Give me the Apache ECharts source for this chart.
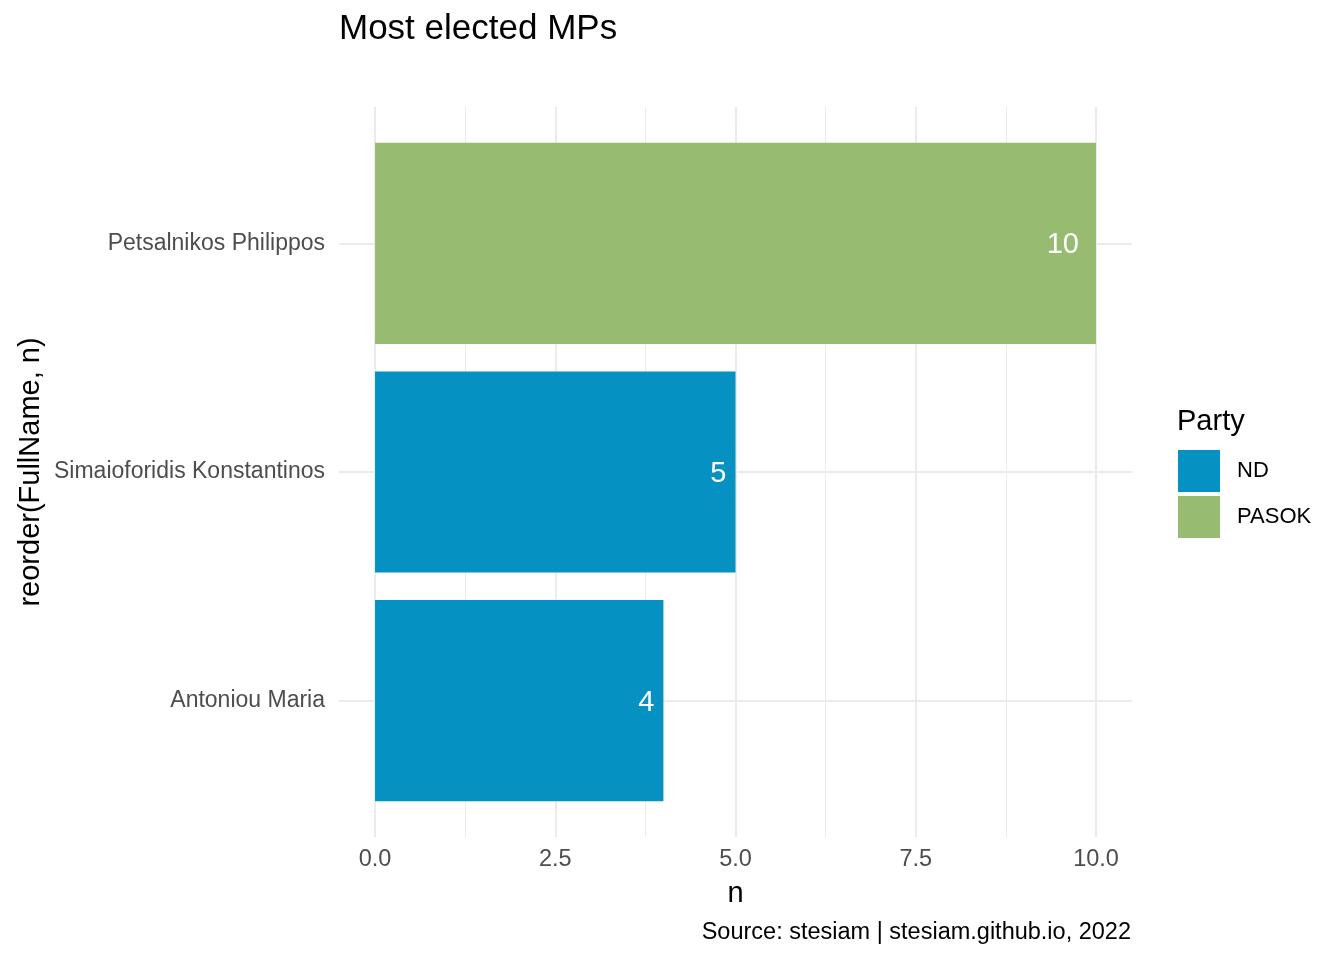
<!DOCTYPE html>
<html>
<head>
<meta charset="utf-8">
<script src="https://cdn.jsdelivr.net/npm/echarts@6/dist/echarts.min.js"></script>
<style>html,body{margin:0;padding:0;background:#fff;}#c{width:1344px;height:960px;}</style>
</head>
<body>
<div id="c"></div>
<script>
const categories = ['Antoniou Maria', 'Simaioforidis Konstantinos', 'Petsalnikos Philippos'];
const parties = ['ND', 'ND', 'PASOK'];
const counts = [4, 5, 10];
const partyNames = ['ND', 'PASOK'];
const partyColors = ['#0592C3', '#96BB71'];
const xTicks = [0, 2.5, 5, 7.5, 10];

const FONT = '"Liberation Sans", Arial, sans-serif';
const chart = echarts.init(document.getElementById('c'));

const series = partyNames.map((p, i) => ({
  name: p,
  type: 'bar',
  stack: 'all',
  xAxisIndex: 0,
  yAxisIndex: 0,
  barWidth: '88%',
  z: 2,
  itemStyle: { color: partyColors[i] },
  data: counts.map((v, k) => parties[k] === p ? v : '-'),
  label: {
    show: true,
    position: 'insideRight',
    distance: p === 'PASOK' ? 17 : 9,
    offset: [0, 2],
    color: '#ffffff',
    fontFamily: FONT,
    fontSize: 29
  },
  markLine: i === 0 ? {
    silent: true,
    z: 1,
    symbol: 'none',
    label: { show: false },
    lineStyle: { color: '#EBEBEB', width: 2, type: 'solid' },
    data: categories.map(c => ({ yAxis: c }))
  } : undefined
}));

chart.setOption({
  animation: false,
  backgroundColor: '#ffffff',
  textStyle: { fontFamily: FONT },
  title: {
    text: 'Most elected MPs',
    left: 339,
    top: 12,
    padding: 0,
    textStyle: { fontFamily: FONT, fontSize: 35, fontWeight: 'normal', color: '#000' }
  },
  legend: {
    orient: 'vertical',
    left: 1178,
    top: 450,
    itemWidth: 42,
    itemHeight: 42,
    itemGap: 4,
    padding: 0,
    icon: 'rect',
    data: partyNames,
    textStyle: { fontFamily: FONT, fontSize: 22, color: '#000', padding: [4, 0, 0, 12] },
    selectedMode: false
  },
  grid: [
    { left: 339, width: 793, top: 129, height: 686 },
    { left: 375, width: 721, top: 107, height: 730 }
  ],
  xAxis: [
    { type: 'value', gridIndex: 0, min: -0.5, max: 10.5, show: false },
    {
      type: 'value', gridIndex: 1, min: 0, max: 10, interval: 2.5,
      axisLine: { show: false }, axisTick: { show: false },
      minorTick: { show: false, splitNumber: 2 },
      splitLine: { show: true, lineStyle: { color: '#EBEBEB', width: 2 } },
      minorSplitLine: { show: true, lineStyle: { color: '#EBEBEB', width: 1 } },
      axisLabel: {
        margin: 11, color: '#4D4D4D', fontFamily: FONT, fontSize: 23.5,
        formatter: v => v.toFixed(1)
      }
    }
  ],
  yAxis: [
    {
      type: 'category', gridIndex: 0, data: categories,
      axisLine: { show: false }, axisTick: { show: false },
      splitLine: { show: false },
      axisLabel: { margin: 14, color: '#4D4D4D', fontFamily: FONT, fontSize: 23, padding: [4, 0, 0, 0] }
    },
    { type: 'value', gridIndex: 1, min: 0, max: 1, show: false }
  ],
  series: series,
  graphic: [
    {
      type: 'text', x: 31, y: 472, rotation: Math.PI / 2,
      style: { text: 'reorder(FullName, n)', fontFamily: FONT, fontSize: 29, fill: '#000', align: 'center', verticalAlign: 'middle' }
    },
    {
      type: 'text', x: 735.5, y: 894,
      style: { text: 'n', fontFamily: FONT, fontSize: 29, fill: '#000', align: 'center', verticalAlign: 'middle' }
    },
    {
      type: 'text', x: 1131, y: 933,
      style: { text: 'Source: stesiam | stesiam.github.io, 2022', fontFamily: FONT, fontSize: 23.5, fill: '#000', align: 'right', verticalAlign: 'middle' }
    },
    {
      type: 'text', x: 1177, y: 422,
      style: { text: 'Party', fontFamily: FONT, fontSize: 29, fill: '#000', align: 'left', verticalAlign: 'middle' }
    }
  ]
});
</script>
</body>
</html>
